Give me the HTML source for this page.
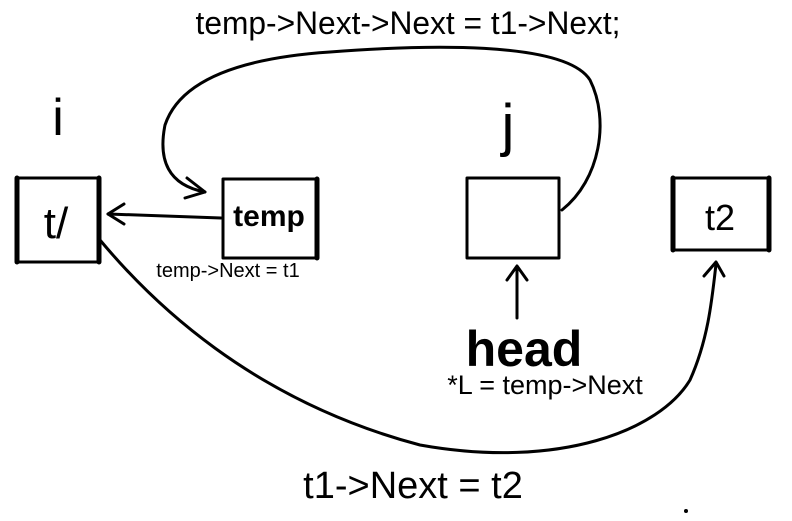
<!DOCTYPE html>
<html><head><meta charset="utf-8"><style>
html,body{margin:0;padding:0;background:#fff;}
svg{display:block}
text{font-family:"Liberation Sans",sans-serif;fill:#000}
</style></head><body>
<svg width="792" height="521" viewBox="0 0 792 521" xmlns="http://www.w3.org/2000/svg">
<rect width="792" height="521" fill="#fff"/>
<g fill="none" stroke="#000" stroke-linecap="round" stroke-linejoin="round">
<rect x="17" y="178" width="82" height="84" stroke-width="3"/>
<line x1="17" y1="178" x2="17" y2="262" stroke-width="5"/>
<line x1="99" y1="178" x2="99" y2="262" stroke-width="5"/>
<rect x="223" y="179" width="94" height="79" stroke-width="3"/>
<line x1="317" y1="179" x2="317" y2="258" stroke-width="5"/>
<rect x="467" y="178" width="92" height="80" stroke-width="3"/>
<rect x="673" y="178" width="96" height="72" stroke-width="3"/>
<line x1="673" y1="178" x2="673" y2="250" stroke-width="5"/>
<line x1="769" y1="178" x2="769" y2="250" stroke-width="5"/>
<path d="M221 218 L108 214" stroke-width="3"/>
<path d="M124 204 L108 214 L124 224" stroke-width="3"/>
<path d="M562 210 C600 180 610 120 590 80 C565 40 420 45 330 52 C240 58 180 80 165 125 C158 160 168 185 205 192" stroke-width="3"/>
<path d="M187 178 L205 192 L185 198" stroke-width="3"/>
<path d="M517 318 L517 268" stroke-width="3"/>
<path d="M507 280 L517 266 L527 280" stroke-width="3"/>
<path d="M100 240 C150 300 250 400 420 445 C560 470 660 430 690 380 C708 340 712 300 716 264" stroke-width="3"/>
<path d="M704 276 L716 262 L724 276" stroke-width="3"/>
</g>
<circle cx="686" cy="511" r="2" fill="#000"/>
<text x="408" y="34" font-size="32" text-anchor="middle" textLength="425" lengthAdjust="spacingAndGlyphs">temp-&gt;Next-&gt;Next = t1-&gt;Next;</text>
<text x="58" y="135" font-size="52" text-anchor="middle">i</text>
<text x="508" y="145" font-size="58" text-anchor="middle">j</text>
<text x="56" y="238" font-size="44" text-anchor="middle">t/</text>
<text x="269" y="226" font-size="30" font-weight="bold" text-anchor="middle">temp</text>
<text x="720" y="230" font-size="36" text-anchor="middle">t2</text>
<text x="228" y="277" font-size="20" text-anchor="middle">temp-&gt;Next = t1</text>
<text x="524" y="366" font-size="50" font-weight="bold" text-anchor="middle">head</text>
<text x="545" y="394" font-size="27" text-anchor="middle">*L = temp-&gt;Next</text>
<text x="413" y="498" font-size="38" text-anchor="middle">t1-&gt;Next = t2</text>
</svg>
</body></html>
